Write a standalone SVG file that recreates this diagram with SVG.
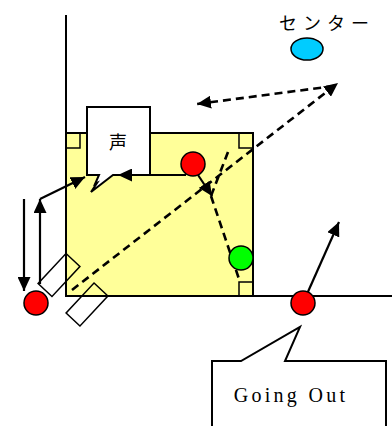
<svg xmlns="http://www.w3.org/2000/svg" width="392" height="426" viewBox="0 0 392 426">
<style>
.ln{stroke:#000;stroke-width:2;fill:none}
.dash{stroke:#000;stroke-width:2.6;fill:none;stroke-dasharray:8 5}
.arr{stroke:#000;stroke-width:2.2;fill:none}
.ball{stroke:#000;stroke-width:1.5}
.win{stroke:#000;stroke-width:1.5;fill:none}
.txt{font-family:"Liberation Serif","Noto Sans CJK JP",serif;fill:#000}
</style>
<defs>
<marker id="ah" viewBox="0 0 14 13" refX="14" refY="6.5" markerWidth="14" markerHeight="13" markerUnits="userSpaceOnUse" orient="auto">
<path d="M0,0 L14,6.5 L0,13 z" fill="#000"/>
</marker>
</defs>
<rect width="392" height="426" fill="#fff"/>
<g id="room">
<rect x="66" y="133" width="187" height="163" fill="#FFFF99" stroke="#000" stroke-width="2"/>
<line class="ln" x1="66" y1="15" x2="66" y2="133"/>
<line class="ln" x1="66" y1="296" x2="392" y2="296"/>
<rect x="66" y="133" width="14" height="15" fill="none" stroke="#000" stroke-width="1.5"/>
<rect x="239" y="133" width="14" height="15" fill="none" stroke="#000" stroke-width="1.5"/>
<rect x="239" y="282" width="14" height="14" fill="none" stroke="#000" stroke-width="1.5"/>
</g>
<g id="windows">
<rect class="win" x="-20.5" y="-9.5" width="41" height="19" transform="translate(59,275) rotate(-47)"/>
<rect class="win" x="-20.5" y="-9.5" width="41" height="19" transform="translate(87,304.5) rotate(-47)"/>
</g>
<g id="voice">
<path d="M87,107 H150 V175 H113 L91,192 L97,183 L95,184 L99,175 H87 Z" fill="#fff" stroke="#000" stroke-width="2"/>
<text class="txt" x="118" y="149" font-size="18" text-anchor="middle">声</text>
</g>
<g id="connectors">
<line class="dash" x1="72" y1="290" x2="338" y2="83" marker-end="url(#ah)"/>
<line class="dash" x1="334" y1="86" x2="197" y2="104" marker-end="url(#ah)"/>
<line class="dash" x1="228" y1="152" x2="211" y2="196"/>
<line class="dash" x1="211" y1="196" x2="240" y2="282"/>
<line class="arr" x1="186" y1="175" x2="118" y2="175" marker-end="url(#ah)"/>
<line class="arr" x1="198" y1="175" x2="212" y2="196" marker-end="url(#ah)"/>
<line class="arr" x1="24" y1="199" x2="24" y2="291" marker-end="url(#ah)"/>
<line class="arr" x1="40" y1="284" x2="40" y2="199" marker-end="url(#ah)"/>
<line class="arr" x1="40" y1="199" x2="85" y2="177" marker-end="url(#ah)"/>
<line class="arr" x1="303" y1="303" x2="339" y2="222" marker-end="url(#ah)"/>
</g>
<g id="center">
<ellipse class="ball" cx="307" cy="49" rx="16" ry="11" fill="#00CCFF"/>
<text class="txt" x="327" y="30" font-size="18" letter-spacing="6" text-anchor="middle">センター</text>
</g>
<g id="person-red-top"><circle class="ball" cx="193" cy="164" r="12" fill="#FF0000"/></g>
<g id="person-green"><circle class="ball" cx="241" cy="258" r="12" fill="#00FF00"/></g>
<g id="person-red-left"><circle class="ball" cx="36" cy="303" r="12" fill="#FF0000"/></g>
<g id="going-out">
<path d="M212,430 V361 H241 L300,327 L285,361 H386 V430" fill="#fff" stroke="#000" stroke-width="2"/>
<text class="txt" x="291" y="402" font-size="20" letter-spacing="3.3" text-anchor="middle">Going Out</text>
</g>
<g id="person-red-out"><circle class="ball" cx="303" cy="303" r="12" fill="#FF0000"/></g>
</svg>
